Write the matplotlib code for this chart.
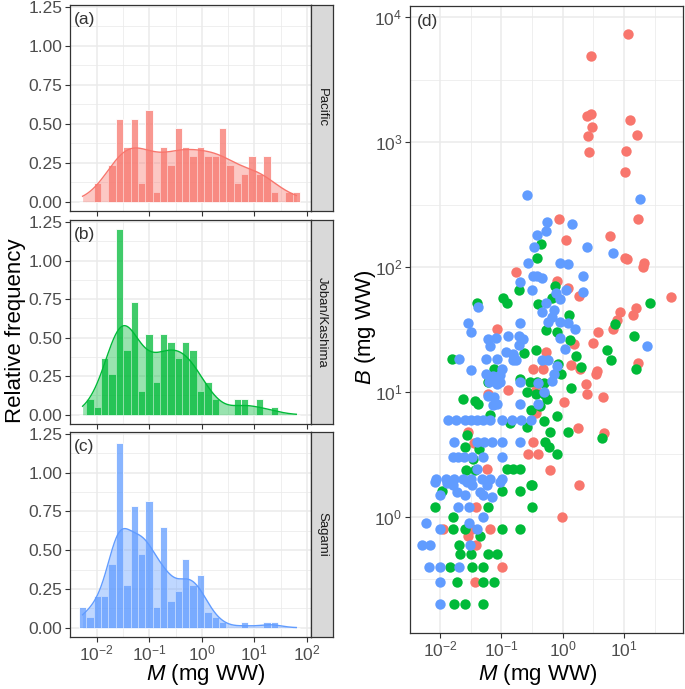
import numpy as np
import matplotlib
matplotlib.use("Agg")
import matplotlib.pyplot as plt
from matplotlib.colors import to_rgba
from matplotlib.ticker import FixedLocator, FuncFormatter, NullFormatter

plt.rcParams["font.family"] = ["Liberation Sans", "DejaVu Sans"]
plt.rcParams["mathtext.fontset"] = "custom"
plt.rcParams["mathtext.rm"] = "Liberation Sans"
plt.rcParams["mathtext.it"] = "Liberation Sans:italic"
plt.rcParams["mathtext.bf"] = "Liberation Sans:bold"

regions = ["Pacific", "Joban/Kashima", "Sagami"]
colors = ["#F8766D", "#00BA38", "#619CFF"]
panel_tags = ["(a)", "(b)", "(c)"]

# 30 histogram bins over log10(M); range of the data
logm_range = (-2.27, 1.80)
counts_pacific = [0, 0, 2, 0, 4, 9, 6, 9, 2, 10, 1, 6, 4, 8, 6, 5, 6, 5, 5, 8,
                  4, 2, 3, 5, 3, 5, 1, 0, 1, 1]
counts_joban = [0, 2, 1, 7, 5, 23, 8, 14, 3, 10, 4, 10, 9, 7, 9, 8, 3, 4, 2, 0,
                0, 2, 2, 0, 2, 0, 1, 0, 0, 0]
counts_sagami = [4, 2, 6, 6, 12, 35, 8, 23, 14, 24, 4, 19, 5, 7, 13, 8, 10, 3, 2, 1,
                 0, 0, 1, 0, 0, 1, 1, 0, 0, 0]
hist_counts = [counts_pacific, counts_joban, counts_sagami]

# scatter (d): body mass M and B, both mg WW
m_pacific = [11.8, 2.87, 2.47, 2.9, 3.0, 2.54, 2.66, 12.6, 16.1, 10.8, 10.2, 16.6, 0.86, 1.14, 5.93,
             10.2, 11.1, 21.5, 20, 0.171, 0.82, 1.24, 1.87, 58, 15.7,
             13.9, 8.6, 7.8, 6.5, 3.83, 3.09, 1.55, 17, 1.37, 1.92,
             3.69, 3.51, 2.38, 2.47, 4.62, 1.05, 1.76, 4.73, 1.85, 0.61,
             0.333, 0.27, 0.40, 0.53, 0.325, 0.47, 0.37, 0.127, 0.37, 0.084,
             0.0615, 0.029, 0.0359, 0.059,
             0.0386, 0.99, 0.0113, 0.0329, 0.0655, 0.029, 0.0386, 0.101, 0.0372]
b_pacific = [7360, 4880, 1630, 1675, 1330, 1117, 832, 1510, 1137, 848, 579, 244, 244, 165, 178,
             119, 117, 108, 100, 91, 78, 68, 59, 57.5, 47,
             41, 44, 38, 32, 30, 24.6, 24.4, 17, 16.3, 15.4,
             14.7, 14, 11.5, 9.6, 9.1, 8.3, 5.15, 4.7, 1.79, 2.39,
             4.0, 3.17, 3.17, 20.9, 15.2, 15.2, 10.3, 10.4, 6.8, 32,
             9.6, 4.8, 3.9, 2.4,
             1.2, 1.0, 0.8, 0.8, 0.8, 0.7, 0.6, 0.4, 0.3]

m_joban = [0.45,
           0.378, 0.75, 0.197, 0.0396, 0.105, 0.125, 0.39, 0.66, 26, 7.2,
           1.29, 0.54, 0.8, 1.32, 14.3, 5.37, 6.1, 15.4, 1.67, 2.0,
           1.37, 1.21, 4.34, 0.8, 0.59, 0.52, 0.61, 0.8, 0.5, 0.305,
           0.2, 0.37, 0.234, 0.85, 0.94, 0.204, 0.29, 0.38, 0.49, 0.26,
           0.37, 0.5, 0.55, 0.43, 0.305, 0.26, 0.139, 0.0159, 0.076, 0.06,
           0.024, 0.0377, 0.0417, 0.065, 0.0279, 0.0256, 0.0438, 0.035, 0.0265, 0.0372,
           0.122, 0.157, 0.2, 0.0106, 0.101,
           0.313, 0.0083, 0.0165, 0.0614, 0.313, 0.0165, 0.0256, 0.101, 0.2, 0.0449,
           0.0207, 0.0212, 0.0316, 0.0614, 0.084, 0.0146, 0.0329, 0.051, 0.0192, 0.051,
           0.077, 0.0169, 0.0256, 0.051]
b_joban = [154,
           119, 70, 66, 52, 56.5, 52, 51, 56, 51.5, 35,
           41, 31.5, 30, 26, 27.9, 21.5, 17.9, 15.2, 19.3, 15.8,
           10.8, 4.8, 4.3, 3.17, 3.63, 4.0, 4.8, 6.4, 5.9, 1.79,
           1.61, 21.8, 20.5, 16.6, 14, 12.6, 12, 12, 11.7, 10,
           9.7, 9.7, 8.85, 7.7, 7.2, 5.25, 5.6, 18.2, 15.4, 12,
           8.7, 8.5, 8.0, 6.5, 4.5, 3.63, 3.48, 2.88, 2.39, 2.39,
           2.4, 2.4, 2.4, 1.6, 1.6,
           1.79, 1.2, 1.0, 1.2, 1.2, 0.8, 0.8, 0.8, 0.8, 0.7,
           0.6, 0.5, 0.5, 0.5, 0.5, 0.4, 0.4, 0.4, 0.3, 0.3,
           0.3, 0.2, 0.2, 0.2]

m_sagami = [0.26, 17.9, 1.41, 0.557, 0.387, 0.537, 2.53, 0.34,
            6.56, 0.276, 0.91, 1.21, 0.333, 0.387, 0.456, 2.12, 0.2, 1.14,
            0.78, 0.91, 2.12, 0.32, 0.0411, 0.53, 0.456, 0.72, 0.66, 0.58,
            0.89, 1.24, 1.59, 0.91, 1.08, 23.5, 0.157, 0.174, 0.456, 0.58,
            0.8, 0.71, 0.66, 0.2, 0.4, 0.5, 0.4, 0.2, 0.0283, 0.0316,
            0.06, 0.081, 0.065, 0.127, 0.2, 0.195, 0.229, 0.195, 0.119, 0.157,
            0.0207, 0.056, 0.086, 0.153, 0.0316, 0.101, 0.095, 0.056, 0.074, 0.064,
            0.095, 0.084, 0.06, 0.077, 0.072, 0.084,
            0.0133, 0.0182, 0.0256, 0.0316, 0.0406, 0.051, 0.0655, 0.101, 0.148, 0.207, 0.305,
            0.0169, 0.0396, 0.0522, 0.0697, 0.101, 0.2,
            0.0161, 0.0199, 0.0247, 0.0329, 0.051, 0.101,
            0.0406, 0.101,
            0.0086, 0.0125, 0.0169, 0.0234, 0.0316, 0.0478, 0.0655,
            0.0083, 0.0129, 0.0165, 0.0272, 0.0329, 0.0577, 0.095,
            0.01, 0.0192, 0.0256, 0.045, 0.051, 0.0697,
            0.0199, 0.0301, 0.051, 0.006, 0.0301, 0.01, 0.0406, 0.005, 0.0069, 0.0308,
            0.0067, 0.01, 0.0207, 0.01, 0.01]
b_sagami = [374, 352, 222, 229, 182, 194, 146, 146,
            129, 108, 108, 106, 84, 84, 81, 84, 76, 66,
            62, 55, 63, 66, 48, 52, 44, 45, 40, 36,
            36, 35.6, 32, 27, 22, 23.2, 19.6, 17.9, 17.9, 17.9,
            16, 14, 12.2, 12, 11.7, 10, 8, 8, 35.6, 30,
            26.7, 27.2, 23.3, 27.9, 35.6, 27.9, 26.7, 23.6, 20.9, 20.3,
            18.2, 18.2, 18.2, 17.9, 15.1, 15.4, 13.6, 14, 13.3, 12,
            12, 11.5, 9.3, 9.1, 7.8, 8.0,
            6, 6, 6, 6, 6, 6, 6, 6, 6, 6, 6,
            4, 4, 4, 4, 4, 4,
            3, 3, 3, 3, 3, 3,
            2.4, 2.0,
            2, 2, 2, 2, 2, 2, 2,
            1.9, 1.85, 1.79, 1.9, 1.79, 1.79, 1.9,
            1.49, 1.58, 1.49, 1.58, 1.49, 1.45,
            1.2, 1.2, 1.0, 0.9, 0.9, 0.8, 0.8, 0.6, 0.6, 0.6,
            0.4, 0.4, 0.4, 0.3, 0.2]
scatter_m = [m_pacific, m_joban, m_sagami]
scatter_b = [b_pacific, b_joban, b_sagami]

GRID = "#EBEBEB"
DARK = "#333333"
TICK_TXT = "#4D4D4D"


def style_axes(ax):
    ax.set_facecolor("white")
    for s in ax.spines.values():
        s.set_color(DARK)
        s.set_linewidth(0.9)
    ax.grid(True, which="major", color=GRID, lw=1.1)
    ax.grid(True, which="minor", color=GRID, lw=0.55)
    ax.set_axisbelow(True)
    ax.tick_params(which="major", direction="out", length=3.5, width=0.8,
                   color=DARK, labelcolor=TICK_TXT, labelsize=12.5, pad=2)
    ax.tick_params(axis="x", which="major", pad=1)
    ax.tick_params(which="minor", length=0)


def kde(centers, counts, grid):
    x = np.repeat(centers, counts)
    n = len(x)
    q75, q25 = np.percentile(x, [75, 25])
    bw = 0.9 * min(x.std(ddof=1), (q75 - q25) / 1.34) * n ** -0.2
    z = (grid[:, None] - x[None, :]) / bw
    return np.exp(-0.5 * z ** 2).sum(axis=1) / (n * bw * np.sqrt(2 * np.pi))


pow_fmt = FuncFormatter(lambda v, p: r"$10^{%d}$" % round(v))

fig = plt.figure(figsize=(6.85, 6.89), dpi=100)

# histogram panels (x in log10 units)
panel_boxes = [(0.6938, 0.2990), (0.3846, 0.2961), (0.0755, 0.2975)]
lo, hi = logm_range
nbins = len(counts_pacific)
centers = np.linspace(lo, hi, nbins)
width = (hi - lo) / (nbins - 1)
grid_x = np.linspace(lo, hi, 512)

for i, (bottom, height) in enumerate(panel_boxes):
    ax = fig.add_axes([0.1022, bottom, 0.3518, height])
    style_axes(ax)
    counts = np.array(hist_counts[i])
    dens = counts / (counts.sum() * width)
    col = colors[i]
    ax.bar(centers, dens, width=width, facecolor=to_rgba(col, 0.75),
           edgecolor="white", linewidth=0.6, zorder=2)
    dy = kde(centers, counts, grid_x)
    ax.fill_between(grid_x, 0, dy, color=col, alpha=0.4, lw=0, zorder=3)
    ax.plot(grid_x, dy, color=col, lw=1.0, zorder=4)

    ax.set_xlim(-2.51, 2.08)
    ax.set_ylim(-0.06, 1.263)
    ax.xaxis.set_major_locator(FixedLocator([-2, -1, 0, 1, 2]))
    ax.xaxis.set_minor_locator(FixedLocator([-1.5, -0.5, 0.5, 1.5]))
    ax.yaxis.set_major_locator(FixedLocator([0, 0.25, 0.5, 0.75, 1.0, 1.25]))
    ax.yaxis.set_minor_locator(FixedLocator([0.125, 0.375, 0.625, 0.875, 1.125]))
    ax.yaxis.set_major_formatter(FuncFormatter(lambda v, p: f"{v:.2f}"))
    if i < 2:
        ax.xaxis.set_major_formatter(NullFormatter())
    else:
        ax.xaxis.set_major_formatter(pow_fmt)
    ax.text(0.017, 0.965, panel_tags[i], transform=ax.transAxes, ha="left",
            va="top", fontsize=12.5, color=DARK)

    # facet strip on the right
    sx = fig.add_axes([0.454, bottom, 0.0321, height])
    sx.set_facecolor("#D9D9D9")
    sx.set_xticks([])
    sx.set_yticks([])
    for s in sx.spines.values():
        s.set_color(DARK)
        s.set_linewidth(0.9)
    sx.text(0.5, 0.5, regions[i], rotation=-90, ha="center", va="center",
            fontsize=9.5, color="#1A1A1A", transform=sx.transAxes)

fig.text(0.022, 0.52, "Relative frequency", rotation=90, ha="center",
         va="center", fontsize=16)
fig.text(0.30, 0.021, r"$M$ (mg WW)", ha="center", va="center", fontsize=16)

# scatter panel (d)
ax = fig.add_axes([0.5985, 0.0813, 0.3985, 0.910])
style_axes(ax)
for i in range(3):
    ax.scatter(scatter_m[i], scatter_b[i], s=56, color=colors[i],
               linewidths=0, zorder=3 + i)
ax.set_xscale("log")
ax.set_yscale("log")
ax.set_xlim(10 ** -2.49, 10 ** 1.96)
ax.set_ylim(10 ** -0.93, 10 ** 4.09)
ax.xaxis.set_major_locator(FixedLocator([10.0 ** k for k in range(-2, 2)]))
ax.xaxis.set_minor_locator(FixedLocator([10.0 ** (k + 0.5) for k in range(-2, 2)]))
ax.yaxis.set_major_locator(FixedLocator([10.0 ** k for k in range(0, 5)]))
ax.yaxis.set_minor_locator(FixedLocator([10.0 ** (k + 0.5) for k in range(-1, 4)]))
log_fmt = FuncFormatter(lambda v, p: r"$10^{%d}$" % round(np.log10(v)))
ax.xaxis.set_major_formatter(log_fmt)
ax.yaxis.set_major_formatter(log_fmt)
ax.xaxis.set_minor_formatter(NullFormatter())
ax.yaxis.set_minor_formatter(NullFormatter())
ax.text(0.026, 0.988, "(d)", transform=ax.transAxes, ha="left", va="top",
        fontsize=12.5, color=DARK)

fig.text(0.785, 0.021, r"$M$ (mg WW)", ha="center", va="center", fontsize=16)
fig.text(0.533, 0.525, r"$B$ (mg WW)", rotation=90, ha="center",
         va="center", fontsize=16)

fig.savefig("out.png", dpi=100)
